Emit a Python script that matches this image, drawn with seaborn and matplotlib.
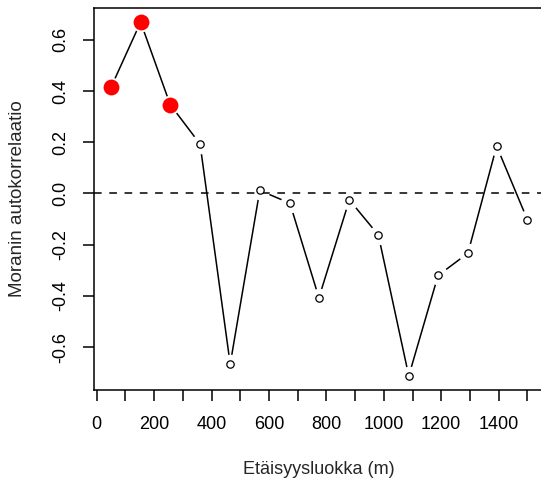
import matplotlib
matplotlib.use("Agg")
import matplotlib.pyplot as plt
import seaborn as sns
import pandas as pd

# Moran's I correlogram by distance class
distance = [50, 153, 256, 360, 465, 568, 673, 774, 880, 981, 1087, 1189, 1293, 1393, 1500]
moran_i = [0.415, 0.669, 0.347, 0.193, -0.666, 0.012, -0.038, -0.407, -0.025, -0.162,
           -0.712, -0.320, -0.233, 0.185, -0.102]
significant = [True, True, True] + [False] * 12

x_ticks = list(range(0, 1600, 100))
x_tick_labels = [str(v) if v % 200 == 0 else "" for v in x_ticks]
y_ticks = [-0.6, -0.4, -0.2, 0.0, 0.2, 0.4, 0.6]
y_tick_labels = ["-0.6", "-0.4", "-0.2", "0.0", "0.2", "0.4", "0.6"]

df = pd.DataFrame({"dist": distance, "moran": moran_i, "sig": significant})

sns.set_style("white")
plt.rcParams["font.family"] = ["Liberation Sans", "DejaVu Sans"]
plt.rcParams["font.size"] = 13

W, H = 541, 482
fig = plt.figure(figsize=(W / 100, H / 100), dpi=100)
left, right, top, bottom = 94.3, 544.0, 8.0, 390.0
ax = fig.add_axes([left / W, (H - bottom) / H, (right - left) / W, (bottom - top) / H])

lw = 1.1
sns.lineplot(data=df, x="dist", y="moran", color="black", lw=lw, ax=ax, zorder=1)
# leave a gap in the line around each point (type = "b" style)
ax.scatter(df["dist"], df["moran"], s=200, color="white", linewidths=0, zorder=2)
ax.axhline(0, color="black", lw=lw, ls=(0, (5, 5)), zorder=3)
sns.scatterplot(data=df[~df["sig"]], x="dist", y="moran", s=28, facecolor="white",
                edgecolor="black", linewidth=0.9, ax=ax, zorder=4)
sns.scatterplot(data=df[df["sig"]], x="dist", y="moran", s=130, color="red",
                edgecolor="red", linewidth=0, ax=ax, zorder=5)

ax.set_xlim(-8.4, 1558)
ax.set_ylim(-0.767, 0.724)
ax.set_xticks(x_ticks)
ax.set_xticklabels(x_tick_labels)
ax.set_yticks(y_ticks)
ax.set_yticklabels(y_tick_labels, rotation=90, va="center")
ax.tick_params(direction="out", length=8, width=lw, color="black", labelsize=13,
               labelcolor="black")
ax.tick_params(axis="x", bottom=True, pad=11)
ax.tick_params(axis="y", left=True, pad=10)
for s in ax.spines.values():
    s.set_color("black")
    s.set_linewidth(lw)

ax.set_xlabel("Etäisyysluokka (m)", fontsize=13, labelpad=20)
ax.set_ylabel("Moranin autokorrelaatio", fontsize=13.5, labelpad=19)

fig.savefig("out.png", dpi=100)
